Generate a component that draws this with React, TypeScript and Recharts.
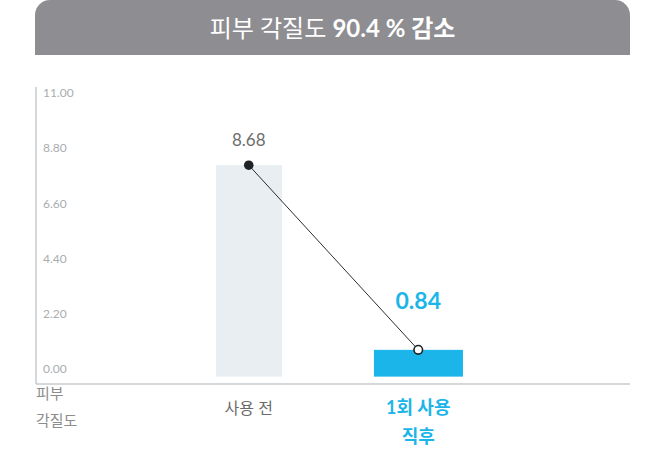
import React from "react";
import { ComposedChart, Bar, Line, XAxis, YAxis, LabelList } from "recharts";

const CATEGORIES = ["사용 전", "1회 사용 직후"];
const VALUES = [8.68, 0.84];
const CATEGORY_LINES = [["사용 전"], ["1회 사용", "직후"]];
const TICKS = [0, 2.2, 4.4, 6.6, 8.8, 11];
const TITLE_A = "피부 각질도";
const TITLE_B = "90.4 % 감소";
const AXIS_TITLE = ["피부", "각질도"];

const data = CATEGORIES.map((name, i) => ({ name, value: VALUES[i] }));

const BAR_COLORS = ["#e8eef2", "#1bb5e9"];
const BAR_WIDTHS = [66, 89];
const BLUE = "#1bb5e9";
const AXIS_COLOR = "#c6cbce";
const FONT = "Lato, 'Noto Sans CJK KR', sans-serif";

const BarShape = (props: any) => {
  const { x, y, width, height, index } = props;
  const cx = x + width / 2;
  const w = BAR_WIDTHS[index];
  return <rect x={cx - w / 2} y={y} width={w} height={height + 7} fill={BAR_COLORS[index]} />;
};

const Dot = (props: any) => {
  const { cx, cy, index } = props;
  if (index === 0) return <circle key={index} cx={cx} cy={cy} r={4.8} fill="#1f2326" />;
  return <circle key={index} cx={cx} cy={cy} r={4.3} fill="#fff" stroke="#1f2326" strokeWidth={1.6} />;
};

const ValueLabel = (props: any) => {
  const { x, y, value, index } = props;
  if (index === 0)
    return (
      <text x={x} y={y - 19} textAnchor="middle" fill="#6e6e6e" fontSize={17} fontFamily={FONT}>
        {Number(value).toFixed(2)}
      </text>
    );
  return (
    <text x={x} y={y - 41} textAnchor="middle" fill={BLUE} fontSize={23} fontWeight={700} fontFamily={FONT}>
      {Number(value).toFixed(2)}
    </text>
  );
};

const YTick = (props: any) => {
  const { y, payload } = props;
  return (
    <text x={43} y={y + 4} textAnchor="start" fill="#a9adb0" fontSize={12} fontFamily={FONT}>
      {Number(payload.value).toFixed(2)}
    </text>
  );
};

const XTick = (props: any) => {
  const { x, y, index } = props;
  const lines = CATEGORY_LINES[index] || [];
  const first = index === 0;
  return (
    <text
      x={x}
      y={y}
      textAnchor="middle"
      fill={first ? "#6a6a6a" : BLUE}
      fontSize={first ? 16 : 18}
      fontWeight={first ? 400 : 700}
      fontFamily={FONT}
    >
      {lines.map((l, i) => (
        <tspan key={i} x={x} dy={i === 0 ? 22 : 29}>
          {l}
        </tspan>
      ))}
    </text>
  );
};

const AxisTitle = () => (
  <text x={36} y={399} fill="#8c8c8c" fontSize={15} fontFamily={FONT}>
    <tspan x={36}>{AXIS_TITLE[0]}</tspan>
    <tspan x={36} dy={27}>{AXIS_TITLE[1]}</tspan>
  </text>
);

export default function App() {
  return (
    <div style={{ position: "relative", width: 666, height: 453, background: "#fff" }}>
      <style>{"body{margin:0}"}</style>
      <div
        style={{
          position: "absolute",
          left: 35,
          top: 0,
          width: 595,
          height: 55,
          background: "#8e8d92",
          borderRadius: "15px 15px 0 0",
          color: "#fff",
          fontFamily: FONT,
          fontSize: 24,
          lineHeight: "55px",
          textAlign: "center",
        }}
      >
        <span style={{ fontWeight: 400 }}>{TITLE_A} </span>
        <span style={{ fontWeight: 700 }}>{TITLE_B}</span>
      </div>
      <ComposedChart
        width={666}
        height={453}
        data={data}
        margin={{ top: 87, right: 36, bottom: 9, left: 0 }}
      >
        <XAxis
          dataKey="name"
          padding={{ left: 128, right: 127 }}
          axisLine={{ stroke: AXIS_COLOR, strokeWidth: 1.5 }}
          tickLine={false}
          tick={<XTick />}
          height={60}
          interval={0}
        />
        <YAxis
          yAxisId="ticks"
          orientation="left"
          width={36}
          domain={[-0.6, 11.25]}
          ticks={TICKS}
          allowDataOverflow
          axisLine={{ stroke: AXIS_COLOR, strokeWidth: 1.5 }}
          stroke={AXIS_COLOR}
          tickLine={false}
          tick={<YTick />}
          label={{ content: () => <AxisTitle /> }}
        />
        <YAxis yAxisId="data" orientation="right" width={0} hide domain={[-0.61, 12]} allowDataOverflow />
        <Bar yAxisId="data" dataKey="value" shape={<BarShape />} isAnimationActive={false} />
        <Line
          yAxisId="data"
          dataKey="value"
          stroke="#2a2d30"
          strokeWidth={1}
          dot={<Dot />}
          activeDot={false}
          isAnimationActive={false}
        >
          <LabelList dataKey="value" content={<ValueLabel />} />
        </Line>
      </ComposedChart>
    </div>
  );
}
